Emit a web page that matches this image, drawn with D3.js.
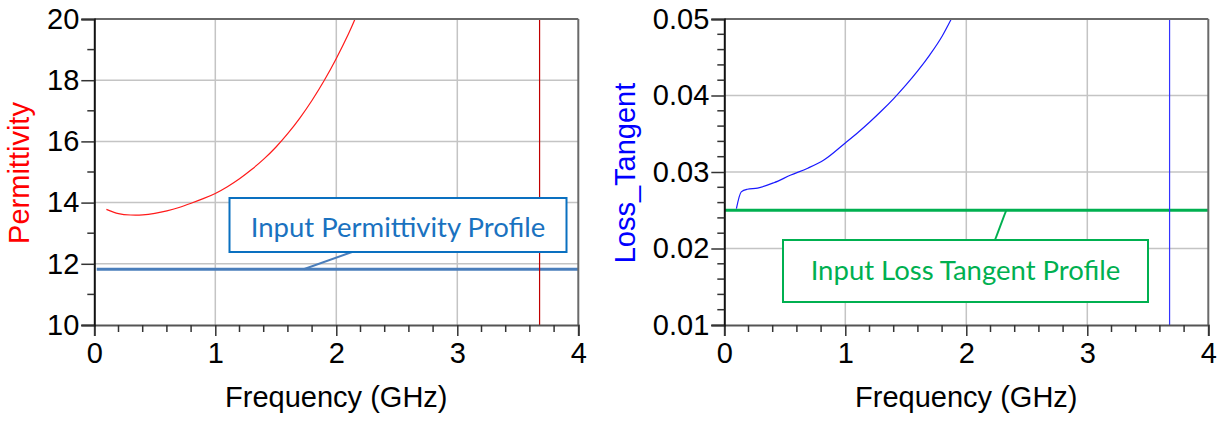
<!DOCTYPE html>
<html><head><meta charset="utf-8">
<script src="https://cdn.jsdelivr.net/npm/d3@7"></script>
<style>
html,body{margin:0;padding:0;background:#fff;}
svg{display:block;}
text{font-family:"Liberation Sans",Arial,sans-serif;}
</style></head>
<body>
<svg id="chart" width="1225" height="421"></svg>
<script>
// ---- data ----
const xTicks = [0, 1, 2, 3, 4];
const permTicks = [10, 12, 14, 16, 18, 20];
const lossTicks = [0.01, 0.02, 0.03, 0.04, 0.05];
const lossTickLabels = ["0.01", "0.02", "0.03", "0.04", "0.05"];

const permFreq = [0.1, 0.2, 0.3, 0.4, 0.5, 0.6, 0.7, 0.8, 0.9, 1.0, 1.1, 1.2, 1.3, 1.4, 1.5, 1.6, 1.7, 1.8, 1.9, 2.0, 2.1, 2.155];
const permVals = [13.78, 13.64, 13.595, 13.6, 13.65, 13.73, 13.84, 13.98, 14.13, 14.3, 14.52, 14.78, 15.08, 15.42, 15.81, 16.26, 16.77, 17.345, 17.99, 18.71, 19.51, 20.0];

const lossFreq = [0.1, 0.14, 0.19, 0.275, 0.41, 0.55, 0.69, 0.826, 1.0, 1.1, 1.2, 1.3, 1.4, 1.5, 1.6, 1.7, 1.8, 1.876];
const lossVals = [0.0252, 0.0274, 0.02774, 0.0279, 0.0286, 0.0296, 0.0305, 0.0316, 0.0338, 0.0351, 0.0365, 0.0380, 0.0396, 0.04135, 0.04325, 0.04535, 0.04775, 0.0500];

const inputPerm = 11.82;
const inputLoss = 0.025;
const profileFreq = [0.02, 4];
const lossProfileFreq = [0, 4];
const markerFreq = 3.68;

const svg = d3.select("#chart");

function panel(cfg) {
  const x = d3.scaleLinear().domain([0, 4]).range([cfg.x0, cfg.x1]);
  const y = d3.scaleLinear().domain(cfg.yDomain).range([cfg.y1, cfg.y0]);
  const g = svg.append("g");

  // gridlines
  g.selectAll(".gx").data(xTicks.slice(1, -1)).join("line")
    .attr("x1", d => x(d)).attr("x2", d => x(d))
    .attr("y1", cfg.y0).attr("y2", cfg.y1)
    .attr("stroke", "#c4c4c4").attr("stroke-width", 1.5);
  g.selectAll(".gy").data(cfg.yTicks.slice(1, -1)).join("line")
    .attr("x1", cfg.x0).attr("x2", cfg.x1)
    .attr("y1", d => y(d)).attr("y2", d => y(d))
    .attr("stroke", "#c4c4c4").attr("stroke-width", 1.5);

  // profile line
  g.append("line")
    .attr("x1", x(cfg.profFreq[0])).attr("x2", x(cfg.profFreq[1]))
    .attr("y1", y(cfg.profVal)).attr("y2", y(cfg.profVal))
    .attr("stroke", cfg.profColor).attr("stroke-width", 3);

  // data curve
  const line = d3.line().x(d => x(d[0])).y(d => y(d[1])).curve(cfg.curve);
  g.append("path")
    .datum(d3.zip(cfg.freq, cfg.vals))
    .attr("d", line)
    .attr("fill", "none").attr("stroke", cfg.curveColor).attr("stroke-width", 1.2);

  // marker
  g.append("line")
    .attr("x1", x(markerFreq)).attr("x2", x(markerFreq))
    .attr("y1", cfg.y0).attr("y2", cfg.y1)
    .attr("stroke", cfg.markerColor).attr("stroke-width", 1.2);

  // callout
  const b = cfg.box;
  g.append("line")
    .attr("x1", b.lx1).attr("y1", b.ly1)
    .attr("x2", x(b.anchorFreq)).attr("y2", y(cfg.profVal))
    .attr("stroke", cfg.profColor).attr("stroke-width", 2);
  g.append("rect")
    .attr("x", b.x).attr("y", b.y).attr("width", b.w).attr("height", b.h)
    .attr("fill", "#fff").attr("stroke", b.stroke).attr("stroke-width", 2);
  g.append("text")
    .attr("x", b.x + b.w / 2).attr("y", b.ty)
    .attr("text-anchor", "middle")
    .style("font-family", "Lato, 'Open Sans', sans-serif")
    .style("font-size", b.fs + "px")
    .attr("fill", b.textColor)
    .text(b.text);

  // frame: top & right dark gray
  g.append("line").attr("x1", cfg.x0).attr("x2", cfg.x1).attr("y1", cfg.y0).attr("y2", cfg.y0)
    .attr("stroke", "#6a6a6a").attr("stroke-width", 2);
  g.append("line").attr("x1", cfg.x1).attr("x2", cfg.x1).attr("y1", cfg.y0).attr("y2", cfg.y1)
    .attr("stroke", "#6a6a6a").attr("stroke-width", 2);

  // x axis
  const xAxis = d3.axisBottom(x).tickValues(xTicks).tickSize(11).tickPadding(6).tickFormat(d3.format("d"));
  const xg = g.append("g").attr("transform", `translate(0,${cfg.y1})`).call(xAxis);
  xg.select(".domain").attr("stroke", "#555").attr("stroke-width", 2);
  xg.selectAll(".tick line").attr("stroke", "#333").attr("stroke-width", 1.5);
  xg.selectAll("text").style("font-size", "29px").attr("fill", "#000")
    .style("font-family", "'Liberation Sans', Arial, sans-serif");
  const xMinor = d3.range(1, 20).map(i => i * 0.2).filter(v => Math.abs(v - Math.round(v)) > 1e-6);
  g.selectAll(".xm").data(xMinor).join("line")
    .attr("x1", d => x(d)).attr("x2", d => x(d))
    .attr("y1", cfg.y1).attr("y2", cfg.y1 + 7)
    .attr("stroke", "#333").attr("stroke-width", 1.5);

  // y axis
  const yAxis = d3.axisLeft(y).tickValues(cfg.yTicks).tickSize(13).tickPadding(2)
    .tickFormat((d, i) => cfg.yLabels[i]);
  const yg = g.append("g").attr("transform", `translate(${cfg.x0},0)`).call(yAxis);
  yg.select(".domain").attr("stroke", "#111").attr("stroke-width", 2);
  yg.selectAll(".tick line").attr("stroke", "#333").attr("stroke-width", 1.5);
  yg.selectAll("text").style("font-size", "29px").attr("fill", "#000")
    .style("font-family", "'Liberation Sans', Arial, sans-serif");
  g.selectAll(".ym").data(cfg.yMinor).join("line")
    .attr("x1", cfg.x0 - 7).attr("x2", cfg.x0)
    .attr("y1", d => y(d)).attr("y2", d => y(d))
    .attr("stroke", "#333").attr("stroke-width", 1.5);

  // titles
  g.append("text")
    .attr("x", (cfg.x0 + cfg.x1) / 2).attr("y", 407)
    .attr("text-anchor", "middle").style("font-size", "29px").attr("fill", "#000")
    .text("Frequency (GHz)");
  g.append("text")
    .attr("transform", `translate(${cfg.titleX},${(cfg.y0 + cfg.y1) / 2 + 1}) rotate(-90)`)
    .attr("text-anchor", "middle").style("font-size", "29px").attr("fill", cfg.titleColor)
    .text(cfg.title);
}

panel({
  x0: 94.3, x1: 578.3, y0: 19, y1: 325,
  yDomain: [10, 20], yTicks: permTicks, yLabels: permTicks.map(String),
  yMinor: [11, 13, 15, 17, 19],
  freq: permFreq, vals: permVals, curveColor: "#ff1a1a", curve: d3.curveNatural,
  profFreq: profileFreq, profVal: inputPerm, profColor: "#4a7ebb",
  markerColor: "#c00000",
  title: "Permittivity", titleColor: "#ff0000", titleX: 29,
  box: { x: 229.5, y: 198, w: 337, h: 54, stroke: "#0a70c0", textColor: "#1a72c0",
         text: "Input Permittivity Profile", fs: 27.5, ty: 237,
         lx1: 352, ly1: 252, anchorFreq: 1.73 }
});

panel({
  x0: 724.3, x1: 1208.3, y0: 19, y1: 325,
  yDomain: [0.01, 0.05], yTicks: lossTicks, yLabels: lossTickLabels,
  yMinor: d3.range(0, 21).map(i => 0.01 + i * 0.002).filter((v, i) => i % 5 !== 0),
  freq: lossFreq, vals: lossVals, curveColor: "#1a1aff", curve: d3.curveMonotoneX,
  profFreq: lossProfileFreq, profVal: inputLoss, profColor: "#00b050",
  markerColor: "#3333ff",
  title: "Loss_Tangent", titleColor: "#0000ff", titleX: 635,
  box: { x: 783, y: 240, w: 365, h: 62, stroke: "#00b050", textColor: "#00b050",
         text: "Input Loss Tangent Profile", fs: 27.5, ty: 280,
         lx1: 995, ly1: 240, anchorFreq: 2.33 }
});
</script>
</body></html>
